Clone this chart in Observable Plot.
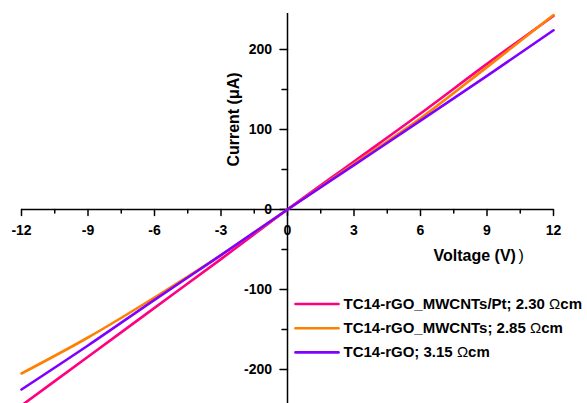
<!DOCTYPE html>
<html>
<head>
<meta charset="utf-8">
<script src="https://cdn.jsdelivr.net/npm/d3@7"></script>
<script src="https://cdn.jsdelivr.net/npm/@observablehq/plot@0.6"></script>
<style>
  html, body { margin: 0; padding: 0; background: #fff; }
  #chart { width: 587px; height: 403px; overflow: hidden; }
</style>
</head>
<body>
<div id="chart"></div>
<script>
// ---- data ----
const voltage = [-12, -9, -6, -3, 0, 3, 6, 9, 12];
const currentPt = [-245, -184, -123, -62, 0, 60, 120, 182, 242];
const currentMWCNTs = [-205, -160, -110, -57, 0, 57, 114, 178, 243];
const currentRGO = [-225, -170, -113, -57, 0, 55.5, 111, 167, 224];
const seriesNames = [
  "TC14-rGO_MWCNTs/Pt; 2.30 \u03A9cm",
  "TC14-rGO_MWCNTs; 2.85 \u03A9cm",
  "TC14-rGO; 3.15 \u03A9cm"
];
const seriesColors = ["#FF0080", "#FF8000", "#8000FF"];
const xMajorTicks = [-12, -9, -6, -3, 0, 3, 6, 9, 12];
const xMinorTicks = [-10.5, -7.5, -4.5, -1.5, 1.5, 4.5, 7.5, 10.5];
const yMajorTicks = [-200, -100, 0, 100, 200];
const yMinorTicks = [-150, -50, 50, 150];

const seriesValues = [currentPt, currentMWCNTs, currentRGO];
const rows = seriesValues.flatMap((vals, s) =>
  vals.map((c, i) => ({series: seriesNames[s], V: voltage[i], I: c})));

const tickDown = {draw(ctx, l) { ctx.moveTo(0, 0); ctx.lineTo(0, l); }};
const tickLeft = {draw(ctx, l) { ctx.moveTo(0, 0); ctx.lineTo(-l, 0); }};
const swatch = {draw(ctx, l) { ctx.moveTo(0, 0); ctx.lineTo(l, 0); }};

const font = "'Liberation Sans', Arial, sans-serif";
const legendMarks = seriesNames.flatMap((name, i) => [
  Plot.vector([0], {frameAnchor: "top-left", dx: 274, dy: 290.5 + i * 24.2,
    length: 43, anchor: "start", shape: swatch, stroke: seriesColors[i], strokeWidth: 2.6, fill: "none"}),
  Plot.text([name], {frameAnchor: "top-left", dx: 322, dy: 290.5 + i * 24.2, text: d => d,
    textAnchor: "start", lineAnchor: "middle", fontWeight: "bold", fontSize: 15, fill: "black",
    className: "legend-text"})
]);

const chart = Plot.plot({
  width: 587,
  height: 403,
  marginLeft: 21,
  marginRight: 34,
  marginTop: 13,
  marginBottom: 0,
  x: {domain: [-12, 12], axis: null},
  y: {domain: [-242.5, 245], axis: null},
  color: {domain: seriesNames, range: seriesColors},
  style: {fontFamily: font, background: "white", overflow: "visible"},
  marks: [
    // axes lines through origin
    Plot.ruleY([0], {x1: -12, x2: 12, stroke: "black", strokeWidth: 1.5}),
    Plot.ruleX([0], {y1: -242.5, y2: 245, stroke: "black", strokeWidth: 1.5}),
    // x ticks
    Plot.vector(xMajorTicks, {x: d => d, y: () => 0, length: 6, anchor: "start", shape: tickDown, stroke: "black", strokeWidth: 1.5, fill: "none"}),
    Plot.vector(xMinorTicks, {x: d => d, y: () => 0, length: 3.5, anchor: "start", shape: tickDown, stroke: "black", strokeWidth: 1.5, fill: "none"}),
    // y ticks
    Plot.vector(yMajorTicks, {x: () => 0, y: d => d, length: 7.5, anchor: "start", shape: tickLeft, stroke: "black", strokeWidth: 1.5, fill: "none"}),
    Plot.vector(yMinorTicks, {x: () => 0, y: d => d, length: 5.5, anchor: "start", shape: tickLeft, stroke: "black", strokeWidth: 1.5, fill: "none"}),
    // tick labels
    Plot.text(xMajorTicks, {x: d => d, y: () => 0, text: d => String(d), dy: 21, fontWeight: "bold", fontSize: 14, fill: "black"}),
    Plot.text(yMajorTicks, {x: () => 0, y: d => d, text: d => String(d), dx: -15.5, textAnchor: "end", fontWeight: "bold", fontSize: 14, fill: "black"}),
    // data lines
    Plot.line(rows, {x: "V", y: "I", z: "series", stroke: "series", strokeWidth: 2.6, curve: "monotone-x"}),
    // axis labels
    Plot.text(["Current (\u03BCA)"], {frameAnchor: "top-left", dx: 212, dy: 106, rotate: -90, text: d => d,
      textAnchor: "middle", lineAnchor: "middle", fontWeight: "bold", fontSize: 16, fill: "black"}),
    Plot.text(["Voltage (V)"], {frameAnchor: "top-left", dx: 412, dy: 242, text: d => d,
      textAnchor: "start", lineAnchor: "middle", fontWeight: "bold", fontSize: 16, fill: "black"}),
    Plot.text([")"], {frameAnchor: "top-left", dx: 497, dy: 242, text: d => d,
      textAnchor: "start", lineAnchor: "middle", fontWeight: "normal", fontSize: 16, fill: "black"}),
    ...legendMarks
  ]
});
document.getElementById("chart").appendChild(chart);

// render the Omega symbol in regular weight, as in the reference
d3.select(chart).selectAll(".legend-text text").each(function() {
  const t = d3.select(this);
  const s = t.text();
  const k = s.indexOf("\u03A9");
  if (k < 0) return;
  t.text(null);
  t.append("tspan").text(s.slice(0, k));
  t.append("tspan").attr("font-weight", "normal").text("\u03A9");
  t.append("tspan").text(s.slice(k + 1));
});
</script>
</body>
</html>
